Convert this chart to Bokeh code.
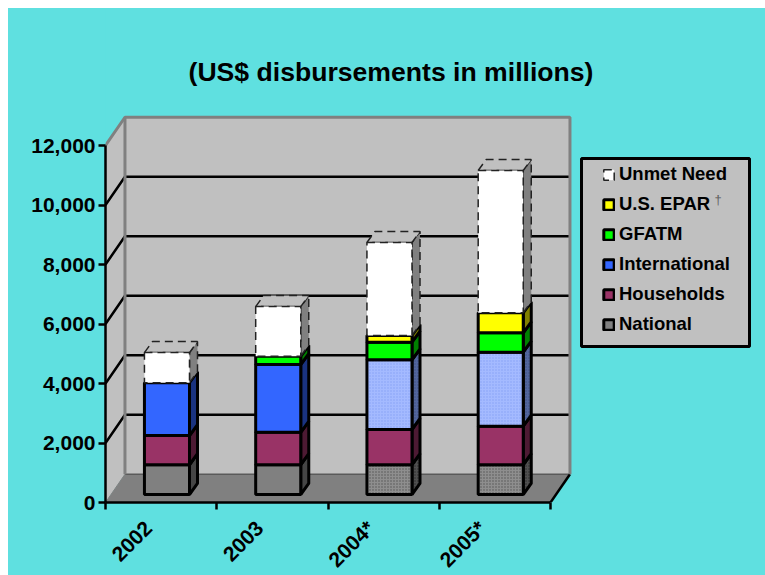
from math import pi

from bokeh.embed import file_html
from bokeh.models import BoxAnnotation, FixedTicker, Label, Legend, LegendItem, Range1d
from bokeh.plotting import figure
from bokeh.resources import INLINE

# Disbursements by source, US$ millions
years = ["2002", "2003", "2004*", "2005*"]
national = [1000, 1000, 1000, 1000]
households = [980, 1090, 1185, 1296]
international = [1780, 2276, 2343, 2487]
gfatm = [0, 280, 592, 652]
us_epar = [0, 0, 225, 673]
unmet_need = [1010, 1670, 3125, 4782]
y_ticks = [0, 2000, 4000, 6000, 8000, 10000, 12000]

TEAL = "#5FE0E0"
WALL = "#C0C0C0"
FLOOR = "#808080"
FONT = "Liberation Sans"

# name, values, front colour, side colour
series = [
    ("National", national, "#808080", "#454545"),
    ("Households", households, "#993366", "#4D1A33"),
    ("International", international, "#3366FF", "#1A3380"),
    ("GFATM", gfatm, "#00FF00", "#008000"),
    ("U.S. EPAR", us_epar, "#FFFF00", "#808000"),
    ("Unmet Need", unmet_need, "#FFFFFF", "#808080"),
]
# Lighter dithered fills used for the projected years
dither = {
    "National": ("#8E8E8E", "#555555", "#505050", "#2A2A2A"),
    "International": ("#A4BAFF", "#86A0F4", "#52669F", "#3F4F80"),
}
PROJECTED = {"2004*", "2005*"}

# Oblique projection, in axis units
WALL_DX, WALL_DY = 0.175, 950
BAR_DX, BAR_DY = 0.072, 370
BAR_BASE = 269
BAR_OFFSET, BAR_WIDTH = 0.35, 0.405

# Scale of the plot area: page pixels per category and per million
PX_PER_CATEGORY = 111.25
PX_PER_UNIT = 0.02975
ORIGIN_X, ORIGIN_Y = 105, 502


def page_x(px):
    return (px - ORIGIN_X) / PX_PER_CATEGORY


def page_y(px):
    return (ORIGIN_Y - px) / PX_PER_UNIT


p = figure(
    width=757, height=567, margin=(8, 0, 0, 8),
    frame_width=660, frame_height=494,
    x_range=Range1d(0, page_x(765)), y_range=Range1d(0, page_y(8)),
    min_border_left=97, min_border_right=0, min_border_top=0, min_border_bottom=60,
    border_fill_color=TEAL, background_fill_color=None, outline_line_color=None,
    styles={"background-color": TEAL},
    output_backend="svg", toolbar_location=None,
)
p.grid.visible = False

# Side wall, back wall and floor
p.patch([0, WALL_DX, WALL_DX, 0], [0, WALL_DY, 12000 + WALL_DY, 12000],
        fill_color=WALL, line_color=None)
p.quad(left=WALL_DX, right=4 + WALL_DX, bottom=WALL_DY, top=12000 + WALL_DY,
       fill_color=WALL, line_color=None)
p.patch([0, 4, 4 + WALL_DX, WALL_DX], [0, 0, WALL_DY, WALL_DY],
        fill_color=FLOOR, line_color=None)
p.line([WALL_DX, 4 + WALL_DX], [WALL_DY, WALL_DY], line_color="#5A5A5A", line_width=1.5)

# Gridlines running across both walls
for tick in y_ticks[1:-1]:
    p.line([0, WALL_DX, 4 + WALL_DX], [tick, tick + WALL_DY, tick + WALL_DY],
           line_color="black", line_width=2.5)
p.line([4, 4 + WALL_DX], [0, WALL_DY], line_color="black", line_width=2.5)

# Wall edges
p.line([0, WALL_DX, 4 + WALL_DX, 4 + WALL_DX],
       [12000, 12000 + WALL_DY, 12000 + WALL_DY, WALL_DY],
       line_color="#808080", line_width=3)
p.line([WALL_DX, WALL_DX], [WALL_DY, 12000 + WALL_DY], line_color="#808080", line_width=3)
p.line([0, WALL_DX], [0, WALL_DY], line_color="#808080", line_width=1)

# Stacked bars, bottom segment first
legend_renderers = {}
for i, year in enumerate(years):
    left = i + BAR_OFFSET
    right = left + BAR_WIDTH
    base = BAR_BASE
    for name, values, front, side in series:
        amount = values[i]
        if amount == 0:
            continue
        top = base + amount
        is_unmet = name == "Unmet Need"
        outline = dict(line_color="#222222", line_width=1.5, line_dash="8 5") if is_unmet \
            else dict(line_color="black", line_width=3)

        front_style = dict(fill_color=front)
        side_style = dict(fill_color=side)
        if year in PROJECTED and name in dither:
            fill, hatch, side_fill, side_hatch = dither[name]
            front_style = dict(fill_color=fill, hatch_pattern="dot", hatch_color=hatch,
                               hatch_scale=3, hatch_weight=1)
            side_style = dict(fill_color=side_fill, hatch_pattern="dot", hatch_color=side_hatch,
                              hatch_scale=3, hatch_weight=1)

        p.patch([right, right + BAR_DX, right + BAR_DX, right],
                [base, base + BAR_DY, top + BAR_DY, top], **side_style, **outline)
        if is_unmet:
            p.patch([left, left + BAR_DX, right + BAR_DX, right],
                    [top, top + BAR_DY, top + BAR_DY, top],
                    fill_color=WALL, **outline)
        renderer = p.quad(left=left, right=right, bottom=base, top=top,
                          **front_style, **outline)
        legend_renderers.setdefault(name, renderer)
        base = top

# Axes
yaxis = p.yaxis[0]
yaxis.ticker = FixedTicker(ticks=y_ticks)
yaxis.bounds = (0, 12000)
yaxis.major_label_overrides = {t: f"{t:,}" for t in y_ticks}
yaxis.major_tick_out = 7
yaxis.major_tick_in = 0
yaxis.minor_tick_out = 0
yaxis.minor_tick_in = 0
yaxis.major_tick_line_width = 2.5
yaxis.axis_line_width = 2.5
yaxis.major_label_standoff = 3
yaxis.major_label_text_font = FONT
yaxis.major_label_text_font_style = "bold"
yaxis.major_label_text_font_size = "21px"
yaxis.major_label_text_color = "black"

label_positions = [i + 0.384 for i in range(len(years))]
xaxis = p.xaxis[0]
xaxis.ticker = FixedTicker(ticks=label_positions, minor_ticks=list(range(len(years) + 1)))
xaxis.bounds = (0, 4)
xaxis.major_label_overrides = {pos: y for pos, y in zip(label_positions, years)}
xaxis.major_label_orientation = pi / 4
xaxis.major_label_standoff = 15
xaxis.major_tick_out = 0
xaxis.major_tick_in = 0
xaxis.minor_tick_out = 7
xaxis.minor_tick_in = 0
xaxis.minor_tick_line_width = 2.5
xaxis.axis_line_width = 2.5
xaxis.major_label_text_font = FONT
xaxis.major_label_text_font_style = "bold"
xaxis.major_label_text_font_size = "21px"
xaxis.major_label_text_color = "black"

# Legend panel
panel = BoxAnnotation(left=page_x(581), right=page_x(749), top=page_y(158), bottom=page_y(346),
                      fill_color=WALL, fill_alpha=1, line_color="black", line_alpha=1,
                      line_width=3, level="overlay")
p.add_layout(panel)

legend = Legend(
    items=[LegendItem(label=s[0], renderers=[legend_renderers[s[0]]]) for s in reversed(series)],
    location=(497, 163), padding=4, margin=0, spacing=0,
    label_height=30, glyph_height=13, glyph_width=13, label_standoff=4,
    label_text_font=FONT, label_text_font_style="bold", label_text_font_size="18.5px",
    label_text_color="black", background_fill_alpha=0, border_line_color=None,
    level="overlay",
)
p.add_layout(legend, "center")

p.add_layout(Label(x=page_x(714), y=page_y(206), text="†",
                   text_font=FONT, text_font_size="13px", text_color="#606060", level="overlay"))

p.add_layout(Label(x=page_x(390.5), y=page_y(71),
                   text="(US$ disbursements in millions)",
                   text_align="center", text_baseline="middle",
                   text_font=FONT, text_font_style="bold", text_font_size="26.6px",
                   text_color="black", level="overlay"))

open("out.html", "w").write(file_html(p, INLINE))
